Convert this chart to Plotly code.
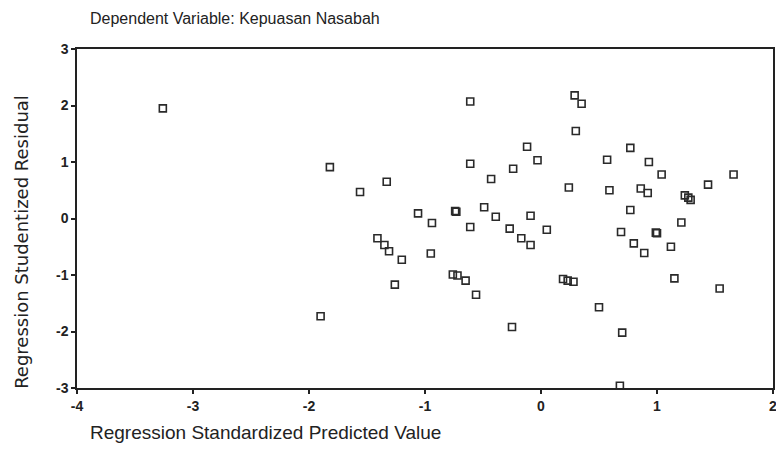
import plotly.graph_objects as go

# Regression Standardized Predicted Value
pred = [-3.26, -1.90, -1.82, -1.56, -1.41, -1.35, -1.33, -1.31, -1.26, -1.20,
        -1.06, -0.95, -0.94, -0.76, -0.74, -0.73, -0.72, -0.65, -0.61, -0.61,
        -0.61, -0.56, -0.49, -0.43, -0.39, -0.27, -0.25, -0.24, -0.17, -0.12,
        -0.09, -0.09, -0.03, 0.05, 0.19, 0.23, 0.24, 0.28, 0.29, 0.30,
        0.35, 0.50, 0.57, 0.59, 0.68, 0.69, 0.70, 0.77, 0.77, 0.80,
        0.86, 0.89, 0.92, 0.93, 0.99, 1.00, 1.04, 1.12, 1.15, 1.21,
        1.24, 1.27, 1.29, 1.44, 1.54, 1.66]

# Regression Studentized Residual
resid = [1.95, -1.73, 0.91, 0.47, -0.35, -0.47, 0.65, -0.58, -1.17, -0.73,
         0.09, -0.62, -0.08, -0.99, 0.13, 0.12, -1.01, -1.10, 2.07, 0.97,
         -0.15, -1.35, 0.20, 0.70, 0.03, -0.18, -1.92, 0.88, -0.35, 1.27,
         0.05, -0.47, 1.03, -0.20, -1.07, -1.10, 0.55, -1.12, 2.18, 1.55,
         2.03, -1.57, 1.04, 0.50, -2.96, -0.24, -2.02, 1.25, 0.15, -0.44,
         0.53, -0.61, 0.45, 1.00, -0.25, -0.26, 0.78, -0.50, -1.06, -0.07,
         0.41, 0.37, 0.33, 0.60, -1.24, 0.78]

x_ticks = [-4, -3, -2, -1, 0, 1, 2]
x_tick_labels = ["-4", "-3", "-2", "-1", "0", "1", "2"]
y_ticks = [-3, -2, -1, 0, 1, 2, 3]
y_tick_labels = ["-3", "-2", "-1", "0", "1", "2", "3"]

title_text = "Dependent Variable: Kepuasan Nasabah"
x_title = "Regression Standardized Predicted Value"
y_title = "Regression Studentized Residual"

fig = go.Figure()
fig.add_trace(go.Scatter(
    x=pred, y=resid, mode="markers",
    marker=dict(symbol="square-open", size=7, color="#2a2a2a",
                line=dict(width=1.6, color="#2a2a2a")),
    showlegend=False, hoverinfo="x+y"))

axis_common = dict(showgrid=False, zeroline=False, showline=True,
                   linecolor="#222", linewidth=1.5, mirror=True,
                   ticks="outside", ticklen=4, tickwidth=2, tickcolor="#222",
                   automargin=False, ticklabeloverflow="allow",
                   tickfont=dict(family="Liberation Sans, Arial", size=14,
                                 color="#222", weight="bold"))

fig.update_layout(
    width=776, height=468,
    margin=dict(l=77, r=3, t=49, b=80),
    paper_bgcolor="white", plot_bgcolor="white",
    xaxis=dict(range=[-4, 2], tickvals=x_ticks, ticktext=x_tick_labels, **axis_common),
    yaxis=dict(range=[-3, 3], tickvals=y_ticks, ticktext=y_tick_labels, **axis_common),
    annotations=[
        dict(text=title_text, xref="paper", yref="paper", x=0.0158, y=1.091,
             xanchor="left", yanchor="middle", showarrow=False,
             font=dict(family="Liberation Sans, Arial", size=16, color="#222")),
        dict(text=x_title, xref="paper", yref="paper", x=0.0158, y=-0.130,
             xanchor="left", yanchor="middle", showarrow=False,
             font=dict(family="Liberation Sans, Arial", size=19, color="#222")),
        dict(text=y_title, xref="paper", yref="paper", x=-0.0800, y=0.432,
             xanchor="center", yanchor="middle", showarrow=False, textangle=-90,
             font=dict(family="DejaVu Sans", size=18, color="#222")),
    ],
)

fig.write_html("out.html", config={"displayModeBar": False},
               post_script="document.body.style.margin='0';document.body.style.overflow='hidden';")
